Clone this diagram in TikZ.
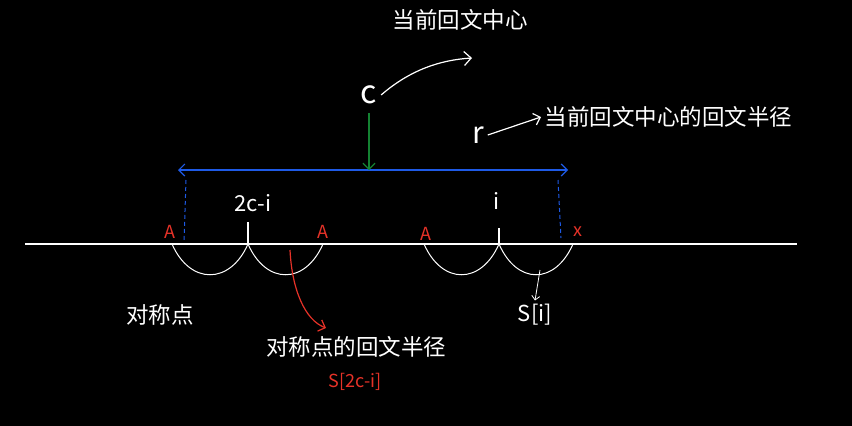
\documentclass[tikz,border=0pt]{standalone}
\usepackage{fontspec}
\setmainfont{Noto Sans CJK SC}
\usetikzlibrary{arrows.meta}
\definecolor{hblue}{RGB}{30,90,230}
\definecolor{hred}{RGB}{230,50,40}
\definecolor{hgreen}{RGB}{20,130,50}
\begin{document}
\begin{tikzpicture}[x=1pt,y=-1pt,
    line width=1.2pt,
    cjk/.style={text=white, font=\fontsize{22.5}{25}\selectfont},
    hand/.style={text=white, font=\fontsize{22}{24}\selectfont},
    redlbl/.style={text=hred, font=\fontsize{18}{20}\selectfont},
    arc/.style={draw=white, line width=1pt}
]
\fill[black] (0,0) rectangle (852,426);
\useasboundingbox (0,0) rectangle (852,426);

% base line and ticks
\coordinate (L) at (25,244);
\coordinate (R) at (797,244);
\draw[white] (L) -- (R);
\draw[white] (248,222) -- (248,244);
\draw[white] (499,228) -- (499,244);

% arcs
\draw[arc] (172,244) .. controls (190,285) and (230,285) .. (248,244);
\draw[arc] (248,244) .. controls (266,285) and (305,285) .. (323,244);
\draw[arc] (424,244) .. controls (442,285) and (481,285) .. (499,244);
\draw[arc] (499,244) .. controls (517,285) and (555,285) .. (573,244);

% labels on the line
\node[hand] (sym) at (253,203) {2c-i};
\node[hand] (pos) at (497,201) {i};
\foreach \x/\y/\t in {170/232/A, 323/232/A, 426/234/A, 578/232/x}
  \node[redlbl] at (\x,\y) {\t};

% radius span
\coordinate (bl) at (178,170);
\coordinate (br) at (568,170);
\draw[hblue, {Straight Barb[length=6pt]}-{Straight Barb[length=6pt]}] (bl) -- (br);
\draw[hblue, dash pattern=on 4pt off 3pt, line width=1pt] (186,180) -- (184,242);
\draw[hblue, dash pattern=on 4pt off 3pt, line width=1pt] (558,180) -- (561,238);

% center
\node[hand, font=\fontsize{32}{34}\selectfont] (c) at (369,95) {c};
\coordinate (cm) at (369,170);
\draw[hgreen, -{Straight Barb[length=6pt]}] (369,113) -- (cm);
\node[cjk] (ctext) at (460,20) {当前回文中心};
\draw[white, -{Straight Barb[length=7pt]}] (c.east) .. controls (410,70) and (440,60) .. (472,58);

% r
\node[hand, font=\fontsize{30}{32}\selectfont] (r) at (478,135) {r};
\node[cjk, anchor=west] (rtext) at (541,117) {当前回文中心的回文半径};
\draw[white, -{Straight Barb[length=6pt]}] (r.east) -- (rtext.west);

% symmetric point
\node[cjk] (symtext) at (160,315) {对称点};
\node[cjk] (symr) at (356,347) {对称点的回文半径};
\node[redlbl] (ssym) at (355,382) {S[2c-i]};
\coordinate (symend) at (326,328);
\draw[hred, -{Straight Barb[length=6pt]}] (290,250) .. controls (292,290) and (305,320) .. (symend);

% S[i]
\node[hand] (si) at (535,315) {S[i]};
\draw[white, line width=0.8pt, -{Straight Barb[length=4pt]}] (540,270) -- (si.north);
\end{tikzpicture}
\end{document}
